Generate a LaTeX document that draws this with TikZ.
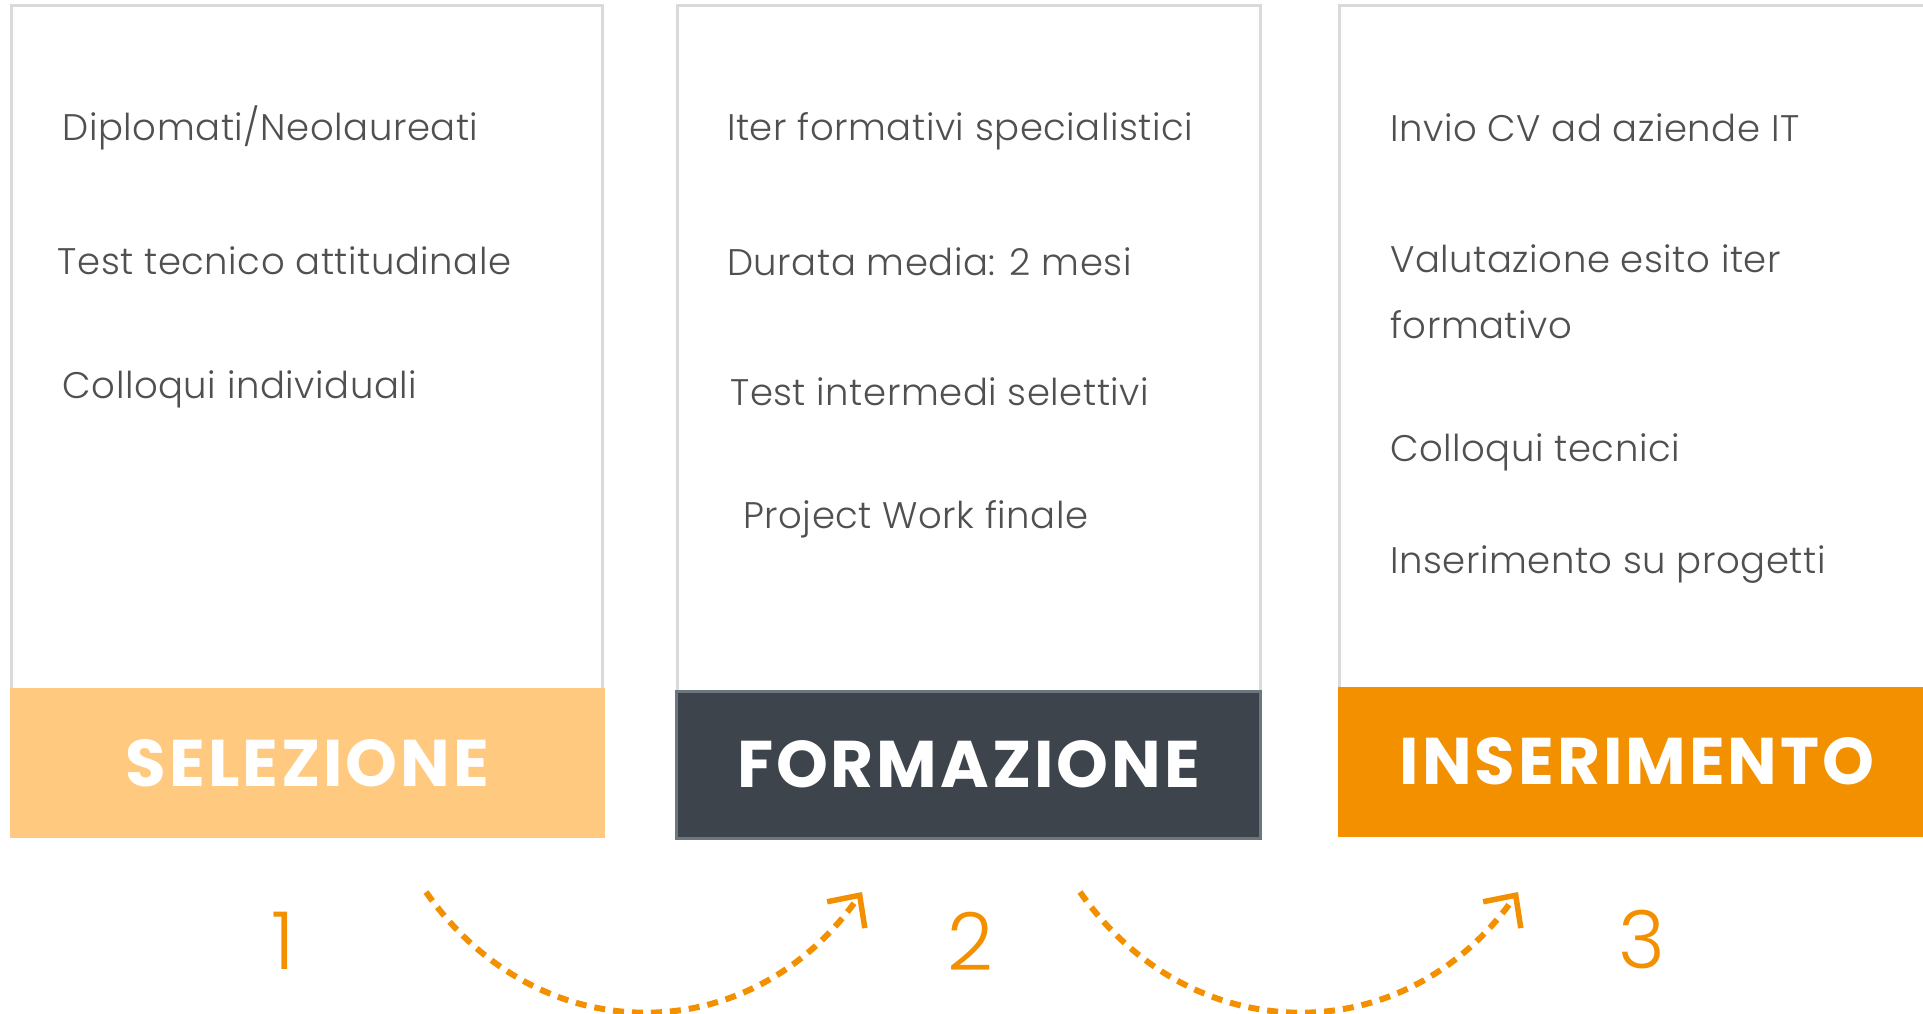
\documentclass[tikz,border=0pt]{standalone}
\usepackage{fontspec}
\setmainfont{Poppins}
\newfontfamily\bodyf[LetterSpace=1.5]{Poppins Light}
\newfontfamily\lblf[LetterSpace=4.5]{Poppins}
\usetikzlibrary{arrows.meta}
\definecolor{frameg}{HTML}{DADADA}
\definecolor{txtg}{HTML}{505050}
\definecolor{selc}{HTML}{FFCA80}
\definecolor{forc}{HTML}{3D444B}
\definecolor{forb}{HTML}{6C7880}
\definecolor{insc}{HTML}{F39000}
\begin{document}
\begin{tikzpicture}[x=1pt,y=-1pt,
  frame/.style={draw=frameg, line width=3pt, fill=white},
  item/.style={anchor=west, text=txtg, font=\bodyf\fontsize{37}{66}\selectfont, inner sep=0pt, align=left},
  bar/.style={minimum height=150pt, inner sep=0pt, text=white, font=\lblf\fontsize{66}{66}\selectfont\bfseries},
  num/.style={text=insc, font=\bodyf\fontsize{80}{80}\selectfont, inner sep=0pt},
  flow/.style={draw=insc, line width=6pt, dash pattern=on 11pt off 8pt, -{Straight Barb[length=24pt,width=46pt,line width=5.5pt]}}
]
\useasboundingbox (0,0) rectangle (1923,1014);
\fill[white] (0,0) rectangle (1923,1014);
% frames
\draw[frame] (11,6) rectangle (602,700);
\draw[frame] (677,6) rectangle (1260,700);
\draw[frame] (1339,6) rectangle (1960,700);
% bars
\node[bar, fill=selc, minimum width=595pt] (b1) at (307.5,763) {SELEZIONE};
\node[bar, fill=forc, draw=forb, line width=3pt, minimum width=584pt, minimum height=147pt] (b2) at (968.5,764.5) {FORMAZIONE};
\node[bar, fill=insc, minimum width=598pt] (b3) at (1637,761.5) {INSERIMENTO};
% items box 1
\node[item] (t11) at (62.5,128) {Diplomati/Neolaureati};
\node[item] (t12) at (57.6,261) {Test tecnico attitudinale};
\node[item] (t13) at (62.5,389) {Colloqui individuali};
% items box 2
\node[item] (t21) at (727,131) {Iter formativi specialistici};
\node[item] (t22) at (727,262) {Durata media: 2 mesi};
\node[item] (t23) at (730,392) {Test intermedi selettivi};
\node[item] (t24) at (743,519) {Project Work finale};
% items box 3
\node[item] (t31) at (1390,128) {Invio CV ad aziende IT};
\node[item, anchor=north west] (t32) at (1390,244) {Valutazione esito iter\\formativo};
\node[item] (t33) at (1390,452) {Colloqui tecnici};
\node[item] (t34) at (1390,565) {Inserimento su progetti};
% numbers
\node[num] (n1) at (283,941) {1};
\node[num] (n2) at (970,941) {2};
\node[num] (n3) at (1642,939) {3};
% arrows
\coordinate (a1s) at (426,892);
\coordinate (a1e) at (862,892);
\coordinate (a2s) at (1080,892);
\coordinate (a2e) at (1518,892);
\draw[flow] (a1s) .. controls (538,1052) and (750,1052) .. (a1e);
\draw[flow] (a2s) .. controls (1192,1052) and (1406,1052) .. (a2e);
\end{tikzpicture}
\end{document}
